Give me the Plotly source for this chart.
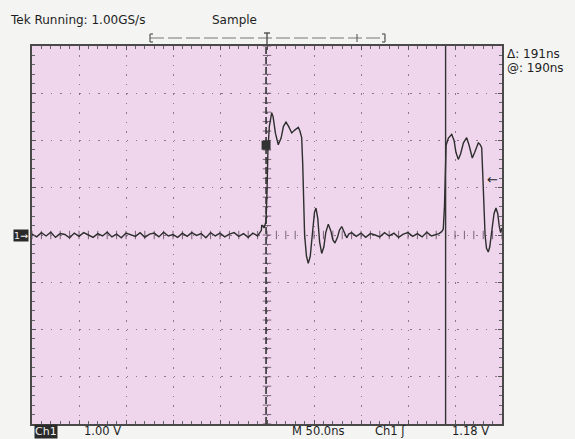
import plotly.graph_objects as go

# ---------------- data (read from the screen capture) ----------------
# time in ns (50 ns/div, trigger at 0), voltage in V (1 V/div)
t_ns = [
    -250, -245, -240, -235, -230, -225, -220, -215, -210, -205,
    -200, -195, -190, -185, -180, -175, -170, -165, -160, -155,
    -150, -145, -140, -135, -130, -125, -120, -115, -110, -105,
    -100, -95, -90, -85, -80, -75, -70, -65, -60, -55,
    -50, -45, -40, -35, -30, -25, -20, -15, -10,
    -6, -5.6, -3, -1, 0, 1, 2.5, 5.0, 6.5, 9, 12.0, 15, 17.5, 20.2, 23,
    26.3, 29.5, 33.3, 35, 36.9, 38.0, 38.8, 40, 42, 43.9, 46, 48.5, 50.5,
    52.1, 54, 56, 58.2, 60.5, 62.5, 65.2, 68, 70, 72.3, 75, 77, 79.5, 82,
    84.8, 87,
    90, 95, 100, 105, 110, 115, 120, 125, 130, 135,
    140, 145, 150, 155, 160, 165, 170, 175, 180,
    183, 185.8, 187.5, 188.8, 189.5, 190.5, 193, 196.5, 199, 201, 203.5,
    206, 209, 212.4, 215, 218.4, 221, 224.8, 226.5, 228.4, 229.5, 230.5,
    232, 233.5, 235.4, 237, 239, 241.5, 243.6, 245.5, 247, 248.5, 250,
]
v_ch1 = [
    0.02, -0.04, 0.05, -0.02, 0.06, -0.05, 0.03, 0.01, -0.06, 0.04,
    -0.03, 0.05, 0.00, -0.05, 0.03, -0.02, 0.06, -0.04, 0.02, -0.06,
    0.04, 0.01, -0.03, 0.05, -0.05, 0.02, 0.04, -0.04, 0.06, -0.02,
    0.01, -0.05, 0.04, -0.03, 0.05, -0.01, 0.03, -0.06, 0.05, -0.02,
    0.04, -0.04, 0.02, 0.05, -0.03, 0.03, -0.05, 0.04, -0.02,
    0.10, 0.21, 0.15, 0.30, 0.90, 1.80, 2.30, 2.59, 2.50, 2.15, 1.91, 2.05,
    2.30, 2.39, 2.30, 2.16, 2.22, 2.28, 2.20, 2.06, 1.50, 0.74, 0.00, -0.45,
    -0.60, -0.45, 0.10, 0.48, 0.57, 0.35, -0.15, -0.39, -0.25, 0.05, 0.23,
    0.08, -0.10, -0.17, -0.05, 0.10, 0.18, 0.08, -0.06, 0.02,
    0.05, -0.03, 0.04, -0.05, 0.03, 0.00, -0.04, 0.05, -0.02, 0.04,
    -0.05, 0.02, 0.05, -0.03, 0.03, -0.04, 0.06, -0.02, 0.01,
    0.03, 0.07, 0.12, 0.60, 1.40, 1.90, 2.05, 2.13, 2.00, 1.75, 1.60,
    1.72, 1.95, 2.06, 1.90, 1.63, 1.75, 1.95, 1.92, 1.85, 1.30, 0.60,
    0.00, -0.28, -0.36, -0.25, 0.10, 0.45, 0.57, 0.45, 0.20, 0.05, 0.15,
]

cursor_ns = [-1, 190]          # inactive (dashed) and active (solid) cursors
cursor_mark_v = [1.90]         # square marker on the dashed cursor
trigger_level_v = 1.18
volts_per_div = 1.00
ns_per_div = 50.0

header_left = "Tek Running: 1.00GS/s"
header_mode = "Sample"
readout_delta = "Δ: 191ns"
readout_at = "@: 190ns"
bottom_labels = ["1.00 V", "M 50.0ns", "Ch1 ʃ", "1.18 V"]

# ---------------- layout helpers ----------------
W, H = 575, 439
L, R, T, B = 32, 502, 46, 424
PW, PH = R - L, B - T


def px(x):
    return (x - L) / PW


def py(y):
    return (B - y) / PH


INK = "#1e1e1e"
FONT = "DejaVu Sans"
TICKC = "rgba(90,70,90,0.8)"

fig = go.Figure()

# centre crosshair minor ticks (graticule)
cx = [i * ns_per_div / 5 for i in range(-25, 26)]
fig.add_trace(go.Scatter(x=cx, y=[0] * len(cx), mode="markers",
                         marker=dict(symbol="line-ns-open", size=6, color=TICKC,
                                     line=dict(color=TICKC, width=1)),
                         hoverinfo="skip", showlegend=False))
cy = [i * volts_per_div / 5 for i in range(-20, 21)]
fig.add_trace(go.Scatter(x=[0] * len(cy), y=cy, mode="markers",
                         marker=dict(symbol="line-ew-open", size=6, color=TICKC,
                                     line=dict(color=TICKC, width=1)),
                         hoverinfo="skip", showlegend=False))

# waveform
fig.add_trace(go.Scatter(x=t_ns, y=v_ch1, mode="lines",
                         line=dict(color="#2e2e2e", width=1.4),
                         hoverinfo="skip", showlegend=False))

# cursor marker square
fig.add_trace(go.Scatter(x=[cursor_ns[0]], y=cursor_mark_v, mode="markers",
                         marker=dict(symbol="square", size=9, color="#333333"),
                         hoverinfo="skip", showlegend=False))

# cursors
fig.add_shape(type="line", xref="x", yref="paper", x0=cursor_ns[0], x1=cursor_ns[0],
              y0=0, y1=1, line=dict(color="#333333", width=1.6, dash="7px,3px"))
fig.add_shape(type="line", xref="x", yref="paper", x0=cursor_ns[1], x1=cursor_ns[1],
              y0=0, y1=1, line=dict(color="#333333", width=1.4))


# record bracket at top
def seg(x0, x1, y0, y1, color="#555555", width=1.2, dash=None):
    fig.add_shape(type="line", xref="paper", yref="paper", x0=px(x0), x1=px(x1),
                  y0=py(y0), y1=py(y1), line=dict(color=color, width=width, dash=dash))


seg(150, 385, 38, 38, color="#777777", dash="14px,4px")
for xp in (150, 385):
    seg(xp, xp, 34, 42)
seg(150, 153, 34, 34)
seg(150, 153, 42, 42)
seg(382, 385, 34, 34)
seg(382, 385, 42, 42)
seg(267, 267, 33, 46, color="#444444", width=1.3)
seg(264, 270, 33, 33, color="#444444", width=1.3)
seg(357, 357, 34, 42, color="#666666")

ann = []


def text(s, xp, yp, size=10.5, anchor="left", color=INK, **kw):
    ann.append(dict(text=s, xref="paper", yref="paper", x=px(xp), y=py(yp),
                    xanchor=anchor, yanchor="middle", showarrow=False,
                    font=dict(family=FONT, size=size, color=color), **kw))


text(header_left, 8, 20, size=12)
text(header_mode, 210, 20, size=12)
text(readout_delta, 505, 54, size=12)
text(readout_at, 505, 68, size=12)
text("Ch1", 34, 431, size=11, color="#f0f0f0", bgcolor="#2a2a2a", borderpad=0)
text(bottom_labels[0], 82, 431, size=11.5)
text(bottom_labels[1], 290, 431, size=11.5)
text(bottom_labels[2], 373, 431, size=11.5)
text(bottom_labels[3], 450, 431, size=11.5)

# channel ground marker and trigger level arrow
ann.append(dict(text="1→", xref="paper", yref="y", x=px(29), y=0,
                xanchor="right", yanchor="middle", showarrow=False, bgcolor="#2a2a2a",
                borderpad=0, font=dict(family=FONT, size=9.5, color="#f0f0f0")))
ann.append(dict(text="←", xref="paper", yref="y", x=px(500), y=trigger_level_v,
                xanchor="right", yanchor="middle", showarrow=False,
                font=dict(family=FONT, size=13, color=INK)))

grid_kw = dict(showgrid=True, gridcolor="rgba(110,85,110,0.75)", gridwidth=1.4,
               zeroline=False, showticklabels=False, showline=True,
               linecolor="#4a4a4a", linewidth=1.5, mirror="ticks",
               ticks="inside", ticklen=4, tickcolor="#555555", tickwidth=1)

fig.update_layout(
    width=W, height=H,
    margin=dict(l=L, r=W - R, t=T, b=H - B),
    paper_bgcolor="#f4f4f3",
    plot_bgcolor="#efd6ec",
    showlegend=False,
    annotations=ann,
    xaxis=dict(range=[-250, 250], dtick=ns_per_div, tick0=0, fixedrange=True,
               griddash="1.5px,7.95px",
               minor=dict(dtick=ns_per_div / 5, ticks="inside", ticklen=3,
                          tickcolor="#666666", showgrid=False),
               **grid_kw),
    yaxis=dict(range=[-4, 4], dtick=volts_per_div, tick0=0, fixedrange=True,
               griddash="1.5px,7.95px",
               minor=dict(dtick=volts_per_div / 5, ticks="inside", ticklen=3,
                          tickcolor="#666666", showgrid=False),
               **grid_kw),
)

fig.write_html("out.html", config={"displayModeBar": False},
               post_script="document.body.style.margin='0';"
                           "document.body.style.background='#f4f4f3';")
